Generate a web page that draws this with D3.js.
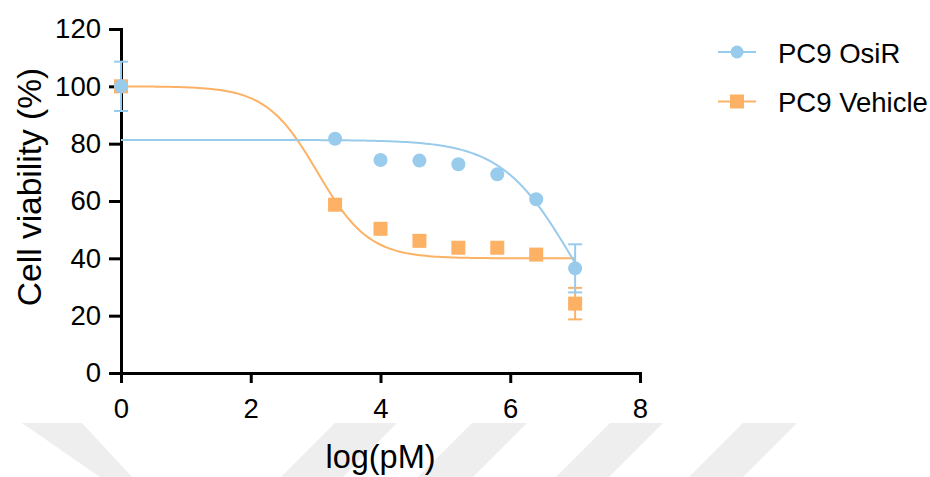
<!DOCTYPE html>
<html>
<head>
<meta charset="utf-8">
<script src="https://cdn.jsdelivr.net/npm/d3@7"></script>
<style>
  body { margin: 0; background: #fff; }
  svg { display: block; font-family: "Liberation Sans", Arial, sans-serif; }
</style>
</head>
<body>
<svg id="chart" width="930" height="477"></svg>
<script>
// log concentration (pM)
const logConc = [0, 3.3, 4, 4.6, 5.2, 5.8, 6.4, 7];
const osirMean = [100, 81.7, 74.3, 74.1, 72.8, 69.3, 60.6, 36.5];
const osirErr = [8.6, 0, 0, 0, 0, 0, 0, 8.4];
const vehicleMean = [100, 58.7, 50.3, 46.1, 43.7, 43.7, 41.3, 24.2];
const vehicleErr = [0, 0, 0, 0, 0, 0, 0, 5.5];

// 4PL fit estimates: [top, bottom, logIC50, hill]
const osirFit = [81.3, 0, 6.94, 0.8];
const vehicleFit = [100, 40, 3.03, 1.1];

const seriesNames = ['PC9 OsiR', 'PC9 Vehicle'];
const xTicks = [0, 2, 4, 6, 8];
const yTicks = [0, 20, 40, 60, 80, 100, 120];

const blue = '#98cbec';
const orange = '#fdb164';

const svg = d3.select('#chart');

// background watermark bands
const wm = [
    [[22, 423], [82, 423], [132, 477], [100, 477]],
    [[335, 423], [397, 423], [343, 477], [281, 477]],
    [[472, 423], [527, 423], [473, 477], [418, 477]],
    [[610, 423], [663, 423], [609, 477], [556, 477]],
    [[743, 423], [797, 423], [743, 477], [689, 477]],
];
svg.append('g').selectAll('polygon')
    .data(wm)
    .enter()
    .append('polygon')
    .attr('points', d => d.map(p => p.join(',')).join(' '))
    .style('fill', '#eeeeee');

const x = d3.scaleLinear().domain([0, 8]).range([121, 640]);
const y = d3.scaleLinear().domain([0, 120]).range([373, 29]);

const fitFn = p => v => p[1] + (p[0] - p[1]) / (1 + Math.pow(10, (v - p[2]) * p[3]));

// axes
const yAxis = svg.append('g')
    .attr('transform', `translate(${x(0)},0)`)
    .call(d3.axisLeft(y).tickValues(yTicks).tickSize(12).tickSizeOuter(0).tickPadding(8));
const xAxis = svg.append('g')
    .attr('transform', `translate(0,${y(0)})`)
    .call(d3.axisBottom(x).tickValues(xTicks).tickSize(10).tickSizeOuter(0).tickPadding(15));
[yAxis, xAxis].forEach(g => {
    g.select('.domain').attr('stroke', '#000').attr('stroke-width', 3).attr('stroke-linecap', 'square');
    g.selectAll('.tick line').attr('stroke', '#000').attr('stroke-width', 3);
    g.selectAll('.tick text').attr('fill', '#000').style('font-size', '27.5px');
});

svg.append('text')
    .attr('x', (x(0) + x(8)) / 2)
    .attr('y', 468)
    .attr('text-anchor', 'middle')
    .style('font-size', '32.5px')
    .text('log(pM)');

svg.append('text')
    .attr('transform', 'translate(41,187) rotate(-90)')
    .attr('text-anchor', 'middle')
    .style('font-size', '33.5px')
    .text('Cell viability (%)');

const series = [
    { name: seriesNames[1], mean: vehicleMean, err: vehicleErr, fit: vehicleFit, color: orange, shape: 'square' },
    { name: seriesNames[0], mean: osirMean, err: osirErr, fit: osirFit, color: blue, shape: 'circle' },
];

const line = d3.line().x(d => x(d[0])).y(d => y(d[1]));
const plot = svg.append('g');

series.forEach((s) => {
    const f = fitFn(s.fit);
    const pts = d3.range(0, 7.0001, 0.05).map(v => [v, f(v)]);
    plot.append('path')
        .attr('d', line(pts))
        .attr('fill', 'none')
        .attr('stroke', s.color)
        .attr('stroke-width', 2);
});

series.forEach((s) => {
    const g = plot.append('g');
    const rows = logConc.map((c, i) => ({ c, m: s.mean[i], e: s.err[i] }));
    const withErr = rows.filter(r => r.e > 0);
    g.selectAll('line.bar')
        .data(withErr)
        .enter()
        .append('line')
        .attr('x1', d => x(d.c)).attr('x2', d => x(d.c))
        .attr('y1', d => y(d.m - d.e)).attr('y2', d => y(d.m + d.e))
        .attr('stroke', s.color).attr('stroke-width', 2);
    [-1, 1].forEach(sign => {
        g.selectAll(null)
            .data(withErr)
            .enter()
            .append('line')
            .attr('x1', d => x(d.c) - 7).attr('x2', d => x(d.c) + 7)
            .attr('y1', d => y(d.m + sign * d.e)).attr('y2', d => y(d.m + sign * d.e))
            .attr('stroke', s.color).attr('stroke-width', 2);
    });
    if (s.shape === 'circle') {
        g.selectAll('circle')
            .data(rows)
            .enter()
            .append('circle')
            .attr('cx', d => x(d.c))
            .attr('cy', d => y(d.m))
            .attr('r', 7)
            .style('fill', s.color);
    } else {
        g.selectAll('rect')
            .data(rows)
            .enter()
            .append('rect')
            .attr('x', d => x(d.c) - 7)
            .attr('y', d => y(d.m) - 7)
            .attr('width', 14)
            .attr('height', 14)
            .style('fill', s.color);
    }
});

// legend
const legend = svg.append('g');
[series[1], series[0]].forEach((s, i) => {
    const cy = 52 + i * 49.5;
    const lg = legend.append('g');
    lg.append('line')
        .attr('x1', 718).attr('x2', 756)
        .attr('y1', cy).attr('y2', cy)
        .attr('stroke', s.color).attr('stroke-width', 2);
    if (s.shape === 'circle') {
        lg.append('circle').attr('cx', 737).attr('cy', cy).attr('r', 6.5).style('fill', s.color);
    } else {
        lg.append('rect').attr('x', 730).attr('y', cy - 7).attr('width', 14).attr('height', 14).style('fill', s.color);
    }
    lg.append('text')
        .attr('x', 778)
        .attr('y', cy + 10.5)
        .style('font-size', '27.5px')
        .text(s.name);
});
</script>
</body>
</html>
